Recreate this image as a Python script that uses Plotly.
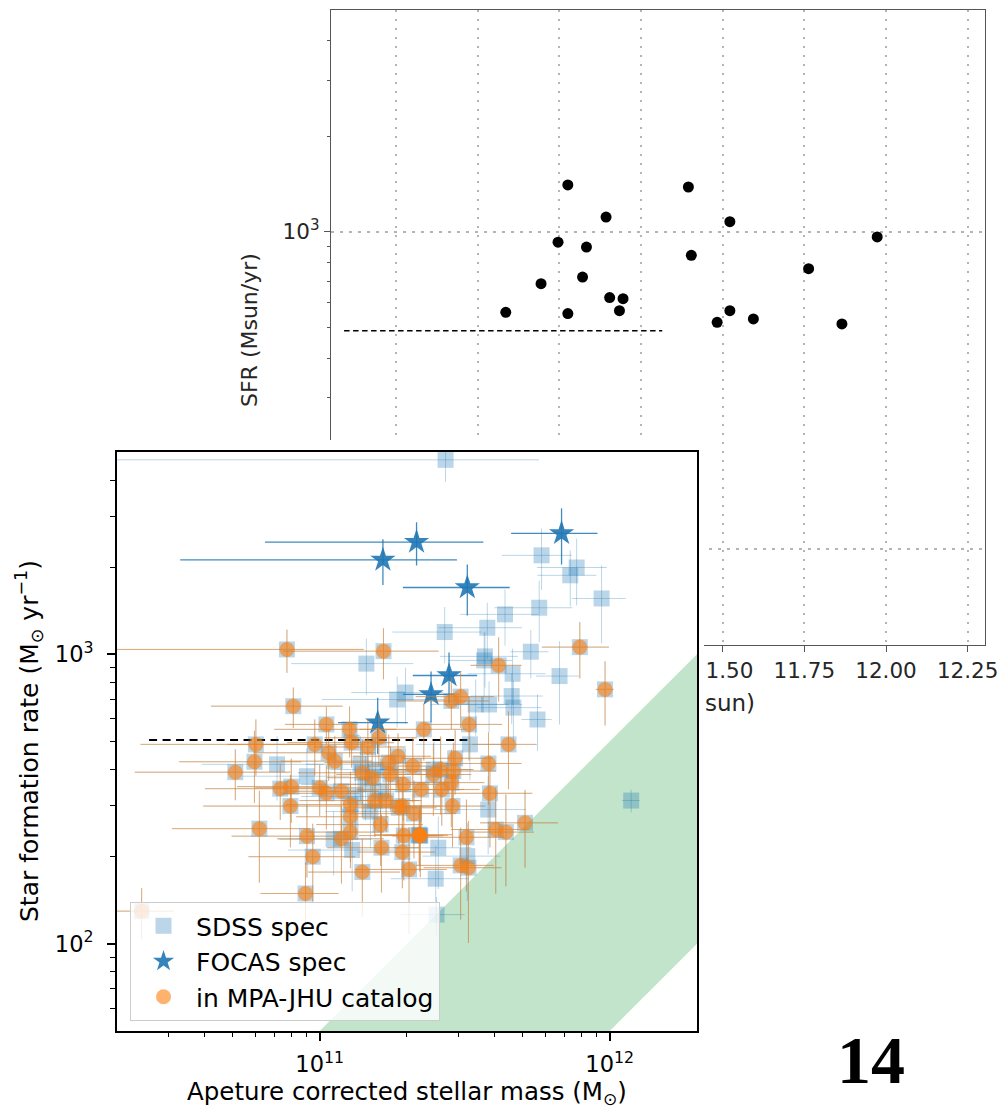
import math
import plotly.graph_objects as go

# ---------------- background panel: SFR against log stellar mass ----------------
bg_logmass = [11.026, 11.143, 10.996, 11.083, 11.071, 10.944, 11.154, 11.195, 11.184, 10.836,
              11.026, 11.395, 11.522, 11.404, 11.763, 11.973, 11.522, 11.483, 11.594, 11.865]
bg_sfr = [1406, 1114, 928, 896, 721, 687, 621, 616, 565, 558,
          553, 1385, 1077, 844, 766, 964, 565, 519, 532, 513]
bg_limit_sfr = 488
bg_limit_logmass = [10.341, 11.315]
bg_xticks = [10.50, 10.75, 11.00, 11.25, 11.50, 11.75, 12.00, 12.25]
bg_ymajor = [100, 1000]
bg_ymajor_text = ["10<sup>2</sup>", "10<sup>3</sup>"]
bg_yminor = [60, 70, 80, 90, 200, 300, 400, 500, 600, 700, 800, 900, 2000, 3000, 4000]
bg_xtitle = "Stellar Mass (Msun)"
bg_ytitle = "SFR (Msun/yr)"

# ---------------- main panel: SDSS spectroscopic sample ----------------
sdss_logmass = [
    11.434, 11.765, 11.886, 11.864, 11.972, 11.757, 11.639, 11.578, 11.431, 11.220,
    10.887, 11.161, 11.728, 11.570, 11.567, 11.617, 11.665, 11.897, 11.827, 11.984,
    11.662, 11.668, 11.584, 11.751, 11.296, 11.267, 11.486, 11.454, 11.515, 11.359,
    11.103, 10.909, 11.023, 11.204, 10.983, 11.110, 11.166, 11.031, 11.052, 11.270,
    11.238, 10.853, 11.147, 11.181, 11.244, 11.288, 10.956, 10.864, 10.902, 11.000,
    11.023, 11.074, 11.190, 11.229, 11.106, 11.273, 10.899, 11.106, 11.210, 11.106,
    11.075, 10.956, 11.112, 11.213, 11.285, 10.976, 11.147, 10.951, 11.048, 10.780,
    10.775, 10.709, 10.792, 11.651, 11.518, 11.582, 11.467, 11.417, 11.461, 11.392,
    11.321, 11.454, 11.421, 11.350, 11.587, 11.581, 11.458, 11.325, 11.285, 11.607,
    11.642, 11.708, 11.345, 11.343, 11.347, 11.506, 11.409, 11.308, 11.486, 11.513,
    11.400, 12.074, 10.386, 11.403, 11.290, 11.141, 11.192, 11.158, 11.210, 11.175,
    11.123, 11.538, 11.394, 11.509]
sdss_logsfr = [
    3.672, 3.342, 3.300, 3.273, 3.193, 3.161, 3.138, 3.092, 3.077, 3.011,
    3.017, 2.968, 3.009, 2.993, 2.979, 2.962, 2.933, 3.025, 2.925, 2.879,
    2.856, 2.816, 2.827, 2.775, 2.868, 2.844, 2.854, 2.839, 2.758, 2.741,
    2.741, 2.821, 2.758, 2.712, 2.689, 2.695, 2.680, 2.660, 2.631, 2.648,
    2.626, 2.620, 2.591, 2.574, 2.585, 2.551, 2.579, 2.536, 2.543, 2.539,
    2.520, 2.527, 2.495, 2.495, 2.481, 2.470, 2.476, 2.439, 2.412, 2.386,
    2.363, 2.372, 2.324, 2.332, 2.317, 2.301, 2.248, 2.174, 2.361, 2.689,
    2.629, 2.593, 2.398, 2.689, 2.689, 2.623, 2.641, 2.602, 2.597, 2.585,
    2.614, 2.557, 2.533, 2.533, 2.520, 2.464, 2.476, 2.450, 2.476, 2.395,
    2.386, 2.418, 2.375, 2.377, 2.373, 2.368, 2.332, 2.257, 2.271, 2.263,
    2.225, 2.495, 2.113, 2.101, 2.374, 2.620, 2.602, 2.551, 2.526, 2.457,
    2.509, 2.827, 2.602, 2.303]
sdss_in_mpa = [
    0, 0, 0, 0, 0, 0, 0, 0, 0, 1,
    1, 0, 0, 0, 0, 1, 0, 1, 0, 1,
    0, 0, 0, 0, 0, 0, 1, 1, 1, 1,
    1, 1, 1, 1, 1, 1, 1, 1, 1, 1,
    1, 0, 1, 1, 1, 1, 0, 1, 1, 1,
    1, 1, 1, 1, 1, 1, 1, 1, 1, 1,
    1, 1, 0, 1, 1, 1, 1, 1, 0, 1,
    1, 1, 1, 1, 0, 1, 1, 1, 1, 1,
    1, 1, 1, 1, 1, 0, 1, 1, 1, 1,
    1, 1, 1, 1, 1, 1, 0, 1, 1, 1,
    0, 0, 1, 0, 1, 0, 0, 0, 0, 0,
    0, 0, 0, 0]
sdss_mass_relerr = [
    1.10, 0.27, 0.27, 0.23, 0.21, 0.30, 0.30, 0.32, 0.34, 0.55,
    0.84, 0.45, 0.15, 0.30, 0.25, 0.20, 0.30, 0.26, 0.17, 0.07,
    0.28, 0.25, 0.30, 0.12, 0.35, 0.45, 0.30, 0.35, 0.30, 0.40,
    0.45, 0.48, 0.28, 0.35, 0.50, 0.40, 0.35, 0.45, 0.35, 0.30,
    0.40, 0.45, 0.40, 0.30, 0.35, 0.40, 0.40, 0.45, 0.35, 0.40,
    0.30, 0.35, 0.45, 0.30, 0.40, 0.35, 0.50, 0.35, 0.40, 0.30,
    0.40, 0.45, 0.40, 0.35, 0.30, 0.40, 0.35, 0.30, 0.35, 0.60,
    0.45, 0.55, 0.50, 0.25, 0.35, 0.30, 0.35, 0.30, 0.40, 0.35,
    0.30, 0.30, 0.35, 0.40, 0.40, 0.35, 0.30, 0.40, 0.35, 0.30,
    0.25, 0.30, 0.25, 0.30, 0.20, 0.35, 0.30, 0.35, 0.30, 0.30,
    0.30, 0.07, 0.29, 0.25, 0.30, 0.35, 0.30, 0.40, 0.35, 0.30,
    0.35, 0.30, 0.35, 0.30]
sdss_sfr_relerr = [
    0.16, 0.24, 0.26, 0.22, 0.30, 0.24, 0.22, 0.22, 0.22, 0.20,
    0.17, 0.22, 0.19, 0.22, 0.25, 0.25, 0.22, 0.22, 0.32, 0.25,
    0.20, 0.24, 0.20, 0.22, 0.22, 0.20, 0.22, 0.20, 0.25, 0.22,
    0.20, 0.16, 0.15, 0.20, 0.22, 0.18, 0.25, 0.20, 0.22, 0.20,
    0.25, 0.25, 0.30, 0.22, 0.25, 0.25, 0.25, 0.22, 0.25, 0.20,
    0.25, 0.28, 0.25, 0.22, 0.30, 0.25, 0.28, 0.30, 0.28, 0.25,
    0.30, 0.28, 0.28, 0.30, 0.25, 0.30, 0.30, 0.28, 0.25, 0.22,
    0.28, 0.20, 0.35, 0.30, 0.25, 0.28, 0.25, 0.30, 0.25, 0.28,
    0.25, 0.30, 0.25, 0.28, 0.35, 0.30, 0.28, 0.30, 0.25, 0.40,
    0.35, 0.30, 0.25, 0.22, 0.28, 0.35, 0.28, 0.40, 0.35, 0.45,
    0.30, 0.09, 0.20, 0.15, 0.30, 0.25, 0.28, 0.25, 0.30, 0.25,
    0.28, 0.22, 0.25, 0.30]

# ---------------- FOCAS spectroscopic sample ----------------
focas_logmass = [11.200, 11.218, 11.334, 11.384, 11.446, 11.509, 11.834]
focas_logsfr = [2.764, 3.326, 3.388, 2.862, 2.927, 3.231, 3.418]
focas_mass_relerr = [0.27, 0.80, 0.70, 0.20, 0.25, 0.40, 0.33]
focas_sfr_relerr = [0.22, 0.18, 0.17, 0.20, 0.20, 0.20, 0.22]

# shaded main-sequence band: specific SFR limits (yr^-1) over a mass span
band_ssfr = [5e-11, 5e-10]
band_mass = [5e9, 5e12]
sfr_limit = 506
sfr_limit_mass = [2.58e10, 3.23e11]

mass_major = [1e11, 1e12]
mass_major_text = ["10<sup>11</sup>", "10<sup>12</sup>"]
mass_minor = [3e10, 4e10, 5e10, 6e10, 7e10, 8e10, 9e10,
              2e11, 3e11, 4e11, 5e11, 6e11, 7e11, 8e11, 9e11]
sfr_major = [100, 1000]
sfr_major_text = ["10<sup>2</sup>", "10<sup>3</sup>"]
sfr_minor = [60, 70, 80, 90, 200, 300, 400, 500, 600, 700, 800, 900, 2000, 3000, 4000]

BLUE = "31,119,180"
ORANGE = "255,127,14"
FONT = "DejaVu Sans"

mass = [10 ** v for v in sdss_logmass]
sfr = [10 ** v for v in sdss_logsfr]
mass_err = [f * m for f, m in zip(sdss_mass_relerr, mass)]
sfr_err = [f * s for f, s in zip(sdss_sfr_relerr, sfr)]
mpa = [i for i, flag in enumerate(sdss_in_mpa) if flag]

f_mass = [10 ** v for v in focas_logmass]
f_sfr = [10 ** v for v in focas_logsfr]

fig = go.Figure()

# background panel
fig.add_trace(go.Scatter(
    x=bg_logmass, y=bg_sfr, mode="markers", xaxis="x", yaxis="y",
    marker=dict(color="black", size=11), showlegend=False, hoverinfo="skip"))
fig.add_trace(go.Scatter(
    x=bg_limit_logmass, y=[bg_limit_sfr, bg_limit_sfr], mode="lines", xaxis="x", yaxis="y",
    line=dict(color="black", width=1.5, dash="5.5px,3.5px"), showlegend=False, hoverinfo="skip"))
# carrier for the background x-axis label axis
fig.add_trace(go.Scatter(
    x=[11.3], y=[1000], mode="markers", xaxis="x4", yaxis="y",
    marker=dict(opacity=0), showlegend=False, hoverinfo="skip"))
# white sheet holding the main panel
fig.add_trace(go.Scatter(
    x=[0.5], y=[0.5], mode="markers", xaxis="x2", yaxis="y2",
    marker=dict(opacity=0), showlegend=False, hoverinfo="skip"))

# main panel
band_x = [band_mass[0], band_mass[1], band_mass[1], band_mass[0]]
band_y = [band_ssfr[1] * band_mass[0], band_ssfr[1] * band_mass[1],
          band_ssfr[0] * band_mass[1], band_ssfr[0] * band_mass[0]]
fig.add_trace(go.Scatter(
    x=band_x, y=band_y, mode="lines", fill="toself", xaxis="x3", yaxis="y3",
    fillcolor="rgb(193,228,203)", line=dict(width=0), showlegend=False, hoverinfo="skip"))
fig.add_trace(go.Scatter(
    x=sfr_limit_mass, y=[sfr_limit, sfr_limit], mode="lines", xaxis="x3", yaxis="y3",
    line=dict(color="black", width=2, dash="8px,5.5px"), showlegend=False, hoverinfo="skip"))

fig.add_trace(go.Scatter(
    x=mass, y=sfr, mode="markers", name="SDSS spec", xaxis="x3", yaxis="y3",
    marker=dict(symbol="square", size=16, color=f"rgba({BLUE},0.3)", line=dict(width=0)),
    error_x=dict(type="data", array=mass_err, color=f"rgba({BLUE},0.3)", thickness=1, width=0),
    error_y=dict(type="data", array=sfr_err, color=f"rgba({BLUE},0.3)", thickness=1, width=0),
    hoverinfo="skip"))
fig.add_trace(go.Scatter(
    x=f_mass, y=f_sfr, mode="markers", name="FOCAS spec", xaxis="x3", yaxis="y3",
    marker=dict(symbol="star", size=19, color=f"rgba({BLUE},0.9)", line=dict(width=0)),
    error_x=dict(type="data", array=[f * m for f, m in zip(focas_mass_relerr, f_mass)],
                 color=f"rgba({BLUE},0.85)", thickness=1.3, width=0),
    error_y=dict(type="data", array=[f * s for f, s in zip(focas_sfr_relerr, f_sfr)],
                 color=f"rgba({BLUE},0.85)", thickness=1.3, width=0),
    hoverinfo="skip"))
fig.add_trace(go.Scatter(
    x=[mass[i] for i in mpa], y=[sfr[i] for i in mpa], mode="markers",
    name="in MPA-JHU catalog", xaxis="x3", yaxis="y3",
    marker=dict(symbol="circle", size=15, color=f"rgba({ORANGE},0.6)", line=dict(width=0)),
    error_x=dict(type="data", array=[mass_err[i] for i in mpa],
                 color=f"rgba({ORANGE},0.5)", thickness=1, width=0),
    error_y=dict(type="data", array=[sfr_err[i] for i in mpa],
                 color=f"rgba({ORANGE},0.5)", thickness=1, width=0),
    hoverinfo="skip"))

bg_axis = dict(showline=True, mirror=True, linecolor="#555555", linewidth=1.3,
               ticks="outside", ticklen=6, tickwidth=1.3, tickcolor="#555555",
               zeroline=False, automargin=False,
               showgrid=True, gridcolor="#b4b4b4", gridwidth=2, griddash="2.5px,6.5px",
               tickfont=dict(family=FONT, size=21.5, color="#262626"))
fg_axis = dict(showline=True, mirror=True, linecolor="black", linewidth=2,
               ticks="outside", ticklen=8, tickwidth=1.5, tickcolor="black",
               zeroline=False, automargin=False, showgrid=False,
               tickfont=dict(family=FONT, size=22.5, color="black"))

fig.update_layout(
    width=1001, height=1111,
    margin=dict(l=0, r=0, t=0, b=0),
    paper_bgcolor="white", plot_bgcolor="white",
    hovermode=False,
    xaxis=dict(domain=[0.33067, 0.98402], anchor="y", range=[10.301, 12.303],
               tickvals=bg_xticks, tickformat=".2f", **bg_axis),
    yaxis=dict(domain=[0.41944, 0.99100], anchor="x", type="log",
               range=[math.log10(50), math.log10(5000)],
               tickvals=bg_ymajor, ticktext=bg_ymajor_text,
               minor=dict(tickvals=bg_yminor, ticks="outside", ticklen=3, tickwidth=1,
                          tickcolor="#555555", showgrid=False),
               **bg_axis),
    xaxis4=dict(overlaying="x", anchor="y", side="bottom", range=[10.301, 12.303],
                tickvals=[11.254], ticktext=[bg_xtitle], ticks="outside", ticklen=37,
                tickcolor="rgba(0,0,0,0)", showline=False, showgrid=False, zeroline=False,
                automargin=False, tickfont=dict(family=FONT, size=23, color="#262626")),
    xaxis2=dict(domain=[0, 0.70330], anchor="y2", range=[0, 1], visible=False),
    yaxis2=dict(domain=[0, 0.60396], anchor="x2", range=[0, 1], visible=False),
    xaxis3=dict(domain=[0.11688, 0.69630], anchor="y3", type="log",
                range=[math.log10(2e10), math.log10(2e12)],
                tickvals=mass_major, ticktext=mass_major_text, ticklabelstandoff=4,
                minor=dict(tickvals=mass_minor, ticks="outside", ticklen=4.5, tickwidth=1.2,
                           tickcolor="black", showgrid=False),
                **fg_axis),
    yaxis3=dict(domain=[0.07201, 0.59316], anchor="x3", type="log",
                range=[math.log10(50), math.log10(5000)],
                tickvals=sfr_major, ticktext=sfr_major_text, ticklabelstandoff=9,
                minor=dict(tickvals=sfr_minor, ticks="outside", ticklen=4.5, tickwidth=1.2,
                           tickcolor="black", showgrid=False),
                **fg_axis),
    legend=dict(x=0.1299, y=0.1881, xanchor="left", yanchor="top", itemwidth=55,
                bgcolor="rgba(255,255,255,0.8)", bordercolor="#cccccc", borderwidth=1,
                font=dict(family=FONT, size=25, color="black")),
    annotations=[
        dict(text=bg_ytitle, x=249 / 1001, y=1 - 330 / 1111, xref="paper", yref="paper",
             textangle=-90, showarrow=False, xanchor="center", yanchor="middle",
             font=dict(family=FONT, size=22, color="#262626")),
        dict(text="Star formation rate (M<sub>⊙</sub> yr<sup>−1</sup>)",
             x=29 / 1001, y=1 - 741 / 1111, xref="paper", yref="paper",
             textangle=-90, showarrow=False, xanchor="center", yanchor="middle",
             font=dict(family=FONT, size=25, color="black")),
        dict(text="Apeture corrected stellar mass (M<sub>⊙</sub>)",
             x=407 / 1001, y=0, xref="paper", yref="paper",
             showarrow=False, xanchor="center", yanchor="bottom",
             font=dict(family=FONT, size=24.5, color="black")),
        dict(text="14", x=871 / 1001, y=1 - 1060 / 1111, xref="paper", yref="paper",
             showarrow=False, xanchor="center", yanchor="middle",
             font=dict(family="Liberation Serif", size=68, color="black", weight="bold")),
    ],
)

fig.write_html("out.html")
